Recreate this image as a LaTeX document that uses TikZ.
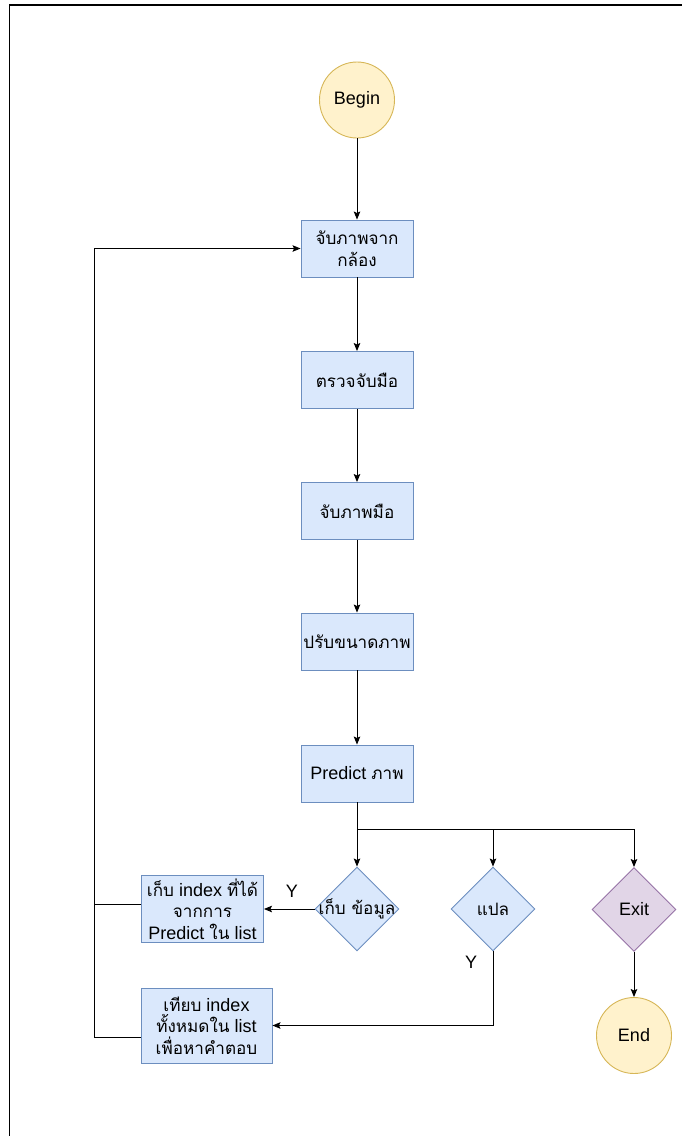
\documentclass[tikz,border=0pt]{standalone}
\usepackage{fontspec}
\setmainfont{Liberation Sans}
\newfontfamily\thfont[Script=Thai,Scale=0.95]{Loma}
\usetikzlibrary{shapes.geometric,arrows.meta}
\definecolor{bfill}{HTML}{DAE8FC}
\definecolor{bline}{HTML}{6C8EBF}
\definecolor{yfill}{HTML}{FFF2CC}
\definecolor{yline}{HTML}{D6B656}
\definecolor{pfill}{HTML}{E1D5E7}
\definecolor{pline}{HTML}{9673A6}
\tikzset{
  every node/.style={font=\fontsize{18}{21.5}\selectfont},
  proc/.style={draw=bline,fill=bfill,line width=0.9pt,minimum width=112pt,minimum height=57pt,inner sep=0.5pt,align=center},
  term/.style={ellipse,draw=yline,fill=yfill,line width=0.9pt,minimum width=75pt,minimum height=76pt,inner sep=0pt},
  dec/.style={diamond,draw=bline,fill=bfill,line width=0.9pt,minimum width=84pt,minimum height=84pt,inner sep=0pt},
  arr/.style={draw=black,line width=0.9pt,-{Stealth[length=8pt,width=6.5pt,inset=1.5pt]}},
  ln/.style={draw=black,line width=0.9pt},
}
\begin{document}
\begin{tikzpicture}[x=1pt,y=-1pt]
\useasboundingbox (0,0) rectangle (682,1136);
% frame
\draw[line width=1.4pt] (9.5,1136) -- (9.5,5) -- (682,5);
% nodes
\node[term] (begin) at (357,100) {Begin};
\node[proc] (c1) at (357,248.5) {\thfont จับภาพจาก\\\thfont กล้อง};
\node[proc] (c2) at (357,380) {\thfont ตรวจจับมือ};
\node[proc] (c3) at (357,511) {\thfont จับภาพมือ};
\node[proc] (c4) at (357,641.5) {\thfont ปรับขนาดภาพ};
\node[proc] (c5) at (357,773.5) {Predict {\thfont ภาพ}};
\node[dec,label={center:{\thfont เก็บ ข้อมูล}}] (d1) at (357,909) {};
\node[dec,label={center:{\thfont แปล}}] (d2) at (493,909) {};
\node[dec,draw=pline,fill=pfill,label={center:Exit}] (d3) at (634,909.5) {};
\node[term] (end) at (634,1035.5) {End};
\node[proc,minimum width=122pt,minimum height=67pt] (k1) at (202.5,909)
  {{\thfont เก็บ} index {\thfont ที่ได้}\\{\thfont จากการ}\\Predict {\thfont ใน} list};
\node[proc,minimum width=131pt,minimum height=75pt] (k2) at (206.5,1025.5)
  {{\thfont เทียบ} index\\{\thfont ทั้งหมดใน} list\\{\thfont เพื่อหาคำตอบ}};
\node (y1) at (292,891) {Y};
\node (y2) at (471,962) {Y};
% connectors
\draw[arr] (begin) -- (c1);
\draw[arr] (c1) -- (c2);
\draw[arr] (c2) -- (c3);
\draw[arr] (c3) -- (c4);
\draw[arr] (c4) -- (c5);
\coordinate (j) at (357,829);
\draw[arr] (c5) -- (d1);
\draw[arr] (j) -| (d2.north);
\draw[arr] (j) -| (d3.north);
\draw[arr] (d3) -- (end);
\draw[arr] (d1) -- (k1);
\draw[arr] (d2.south) |- (k2.east);
\coordinate (lp) at (94.5,0);
\draw[ln] ([yshift=5pt]k1.west) coordinate (a) -- (a -| lp);
\draw[arr] ([yshift=-11.5pt]k2.west) coordinate (b) -- (b -| lp) -- (lp |- c1.west) -- (c1.west);
\end{tikzpicture}
\end{document}
